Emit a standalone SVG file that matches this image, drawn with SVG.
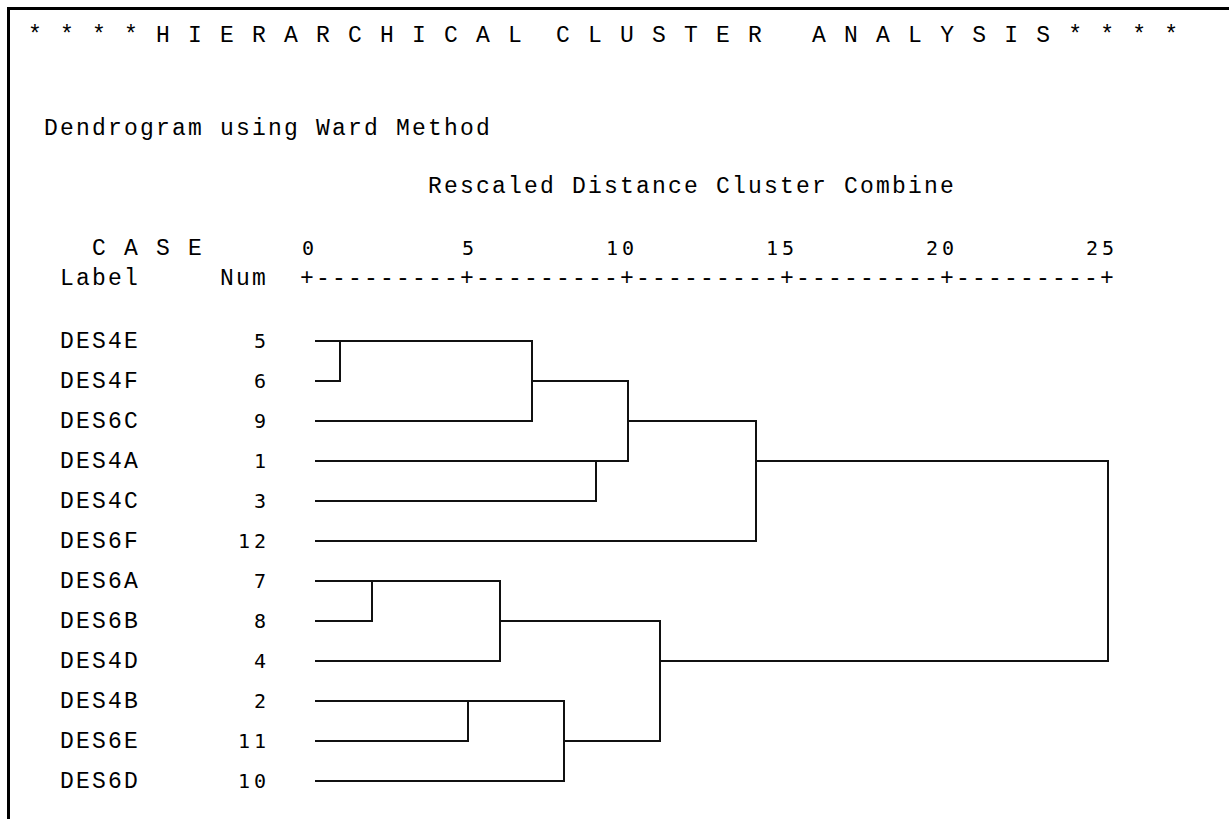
<svg xmlns="http://www.w3.org/2000/svg" width="1229" height="819" viewBox="0 0 1229 819">
<style>
.t{font-family:"Liberation Mono","Courier New",monospace;font-size:23px;letter-spacing:2.2px;fill:#000}
.d{font-family:"DejaVu Sans Mono","Liberation Mono",monospace;font-size:20px;fill:#000}
.ln{fill:none;stroke:#111;stroke-width:2;stroke-linecap:square}
</style>
<rect width="1229" height="819" fill="#fff"/>
<path d="M8.5 819 V8.5 H1229" fill="none" stroke="#000" stroke-width="3"/>
<g id="header">
<text class="t" x="28" y="42" xml:space="preserve">* * * * H I E R A R C H I C A L  C L U S T E R   A N A L Y S I S * * * *</text>
<text class="t" x="44" y="135">Dendrogram using Ward Method</text>
<text class="t" x="428" y="193">Rescaled Distance Cluster Combine</text>
<text class="t" x="92" y="255" xml:space="preserve">C A S E</text>
<text class="d" y="255" x="302">0</text>
<text class="d" y="255" x="462">5</text>
<text class="d" y="255" x="606 622">10</text>
<text class="d" y="255" x="766 782">15</text>
<text class="d" y="255" x="926 942">20</text>
<text class="d" y="255" x="1086 1102">25</text>
<text class="t" x="60" y="285">Label</text>
<text class="t" x="220" y="285">Num</text>
<text class="t" x="300" y="285">+---------+---------+---------+---------+---------+</text>
</g>
<g id="case-5"><text class="t" x="60" y="348">DES4E</text><text class="d" x="254" y="348">5</text></g>
<g id="case-6"><text class="t" x="60" y="388">DES4F</text><text class="d" x="254" y="388">6</text></g>
<g id="case-9"><text class="t" x="60" y="428">DES6C</text><text class="d" x="254" y="428">9</text></g>
<g id="case-1"><text class="t" x="60" y="468">DES4A</text><text class="d" x="254" y="468">1</text></g>
<g id="case-3"><text class="t" x="60" y="508">DES4C</text><text class="d" x="254" y="508">3</text></g>
<g id="case-12"><text class="t" x="60" y="548">DES6F</text><text class="d" x="238 254" y="548">12</text></g>
<g id="case-7"><text class="t" x="60" y="588">DES6A</text><text class="d" x="254" y="588">7</text></g>
<g id="case-8"><text class="t" x="60" y="628">DES6B</text><text class="d" x="254" y="628">8</text></g>
<g id="case-4"><text class="t" x="60" y="668">DES4D</text><text class="d" x="254" y="668">4</text></g>
<g id="case-2"><text class="t" x="60" y="708">DES4B</text><text class="d" x="254" y="708">2</text></g>
<g id="case-11"><text class="t" x="60" y="748">DES6E</text><text class="d" x="238 254" y="748">11</text></g>
<g id="case-10"><text class="t" x="60" y="788">DES6D</text><text class="d" x="238 254" y="788">10</text></g>
<g id="connectors" class="ln">
<path d="M316 341 H532 V421 H316"/>
<path d="M316 381 H340 V341"/>
<path d="M532 381 H628 V461 H316"/>
<path d="M316 501 H596 V461"/>
<path d="M628 421 H756 V541 H316"/>
<path d="M756 461 H1108 V661 H660"/>
<path d="M316 581 H500 V661 H316"/>
<path d="M316 621 H372 V581"/>
<path d="M500 621 H660 V741 H564"/>
<path d="M316 701 H564 V781 H316"/>
<path d="M316 741 H468 V701"/>
</g>
</svg>
